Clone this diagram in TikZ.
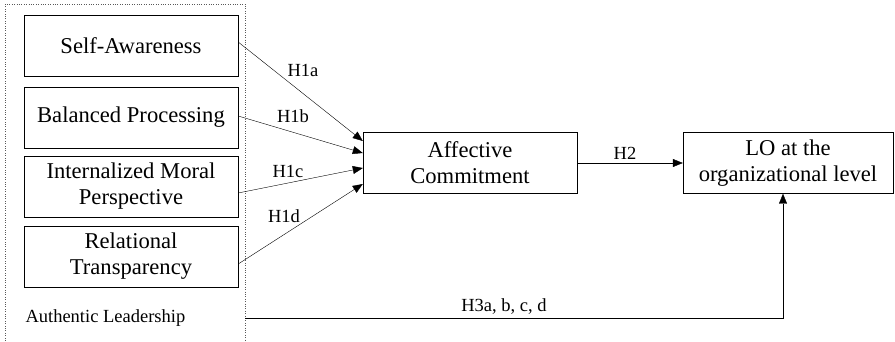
\documentclass[tikz,border=0pt]{standalone}
\usepackage{fontspec}
\setmainfont{Liberation Serif}
\usetikzlibrary{calc,positioning,arrows.meta}

\tikzset{
  dimbox/.style = {draw, minimum width=214pt, minimum height=61pt, align=center,
                   font=\fontsize{22.6}{26}\selectfont, inner sep=2pt},
  hlabel/.style = {font=\fontsize{18.5}{20}\selectfont},
  hyp/.style = {-{Triangle[length=10pt,width=8pt]}}
}

\begin{document}
\begin{tikzpicture}[x=1pt, y=-1pt]
\useasboundingbox (0,0) rectangle (895,342);
%\draw[help lines] (0,0) grid[step=50] (895,342);
\draw[dotted, gray!70!black] (5,350) -- (5,4) -- (245,4) -- (245,350);
\coordinate (alright) at (245,318);

\node[dimbox] (sa) at (131,46) {Self-Awareness};
\node[dimbox] (bp) at (131,117.5) {Balanced Processing};
\node[dimbox] (imp) at (131,186.5) {Internalized Moral\\Perspective};
\node[dimbox] (rt) at (131,256.5) {Relational\\Transparency};
\node[hlabel, anchor=west] (al) at (22,318) {Authentic Leadership};

\node[dimbox] (ac) at (470,163) {Affective\\Commitment};
\node[dimbox, minimum width=210pt] (lo) at (788,163) {LO at the\\organizational level};

\draw[hyp] ($(sa.east)+(0,-4)$) -- ($(ac.west)+(0,-22)$);
\draw[hyp] ($(bp.east)+(0,-1.5)$) -- ($(ac.west)+(0,-10)$);
\draw[hyp] ($(imp.east)+(0,6.5)$) -- ($(ac.west)+(0,5)$);
\draw[hyp] ($(rt.east)+(0,7.5)$) -- ($(ac.west)+(0,21)$);
\path (303,70) node[hlabel] {H1a};
\path (293,116) node[hlabel] {H1b};
\path (288,171) node[hlabel] {H1c};
\path (284,216) node[hlabel] {H1d};

\draw[hyp] (ac.east) -- node[hlabel, above, xshift=-5pt] {H2} (lo.west);
\draw[hyp] (alright) -- (783,318) node[hlabel, above, pos=.5, xshift=-10pt] {H3a, b, c, d} -- ($(lo.south)+(-5,0)$);
\end{tikzpicture}
\end{document}
